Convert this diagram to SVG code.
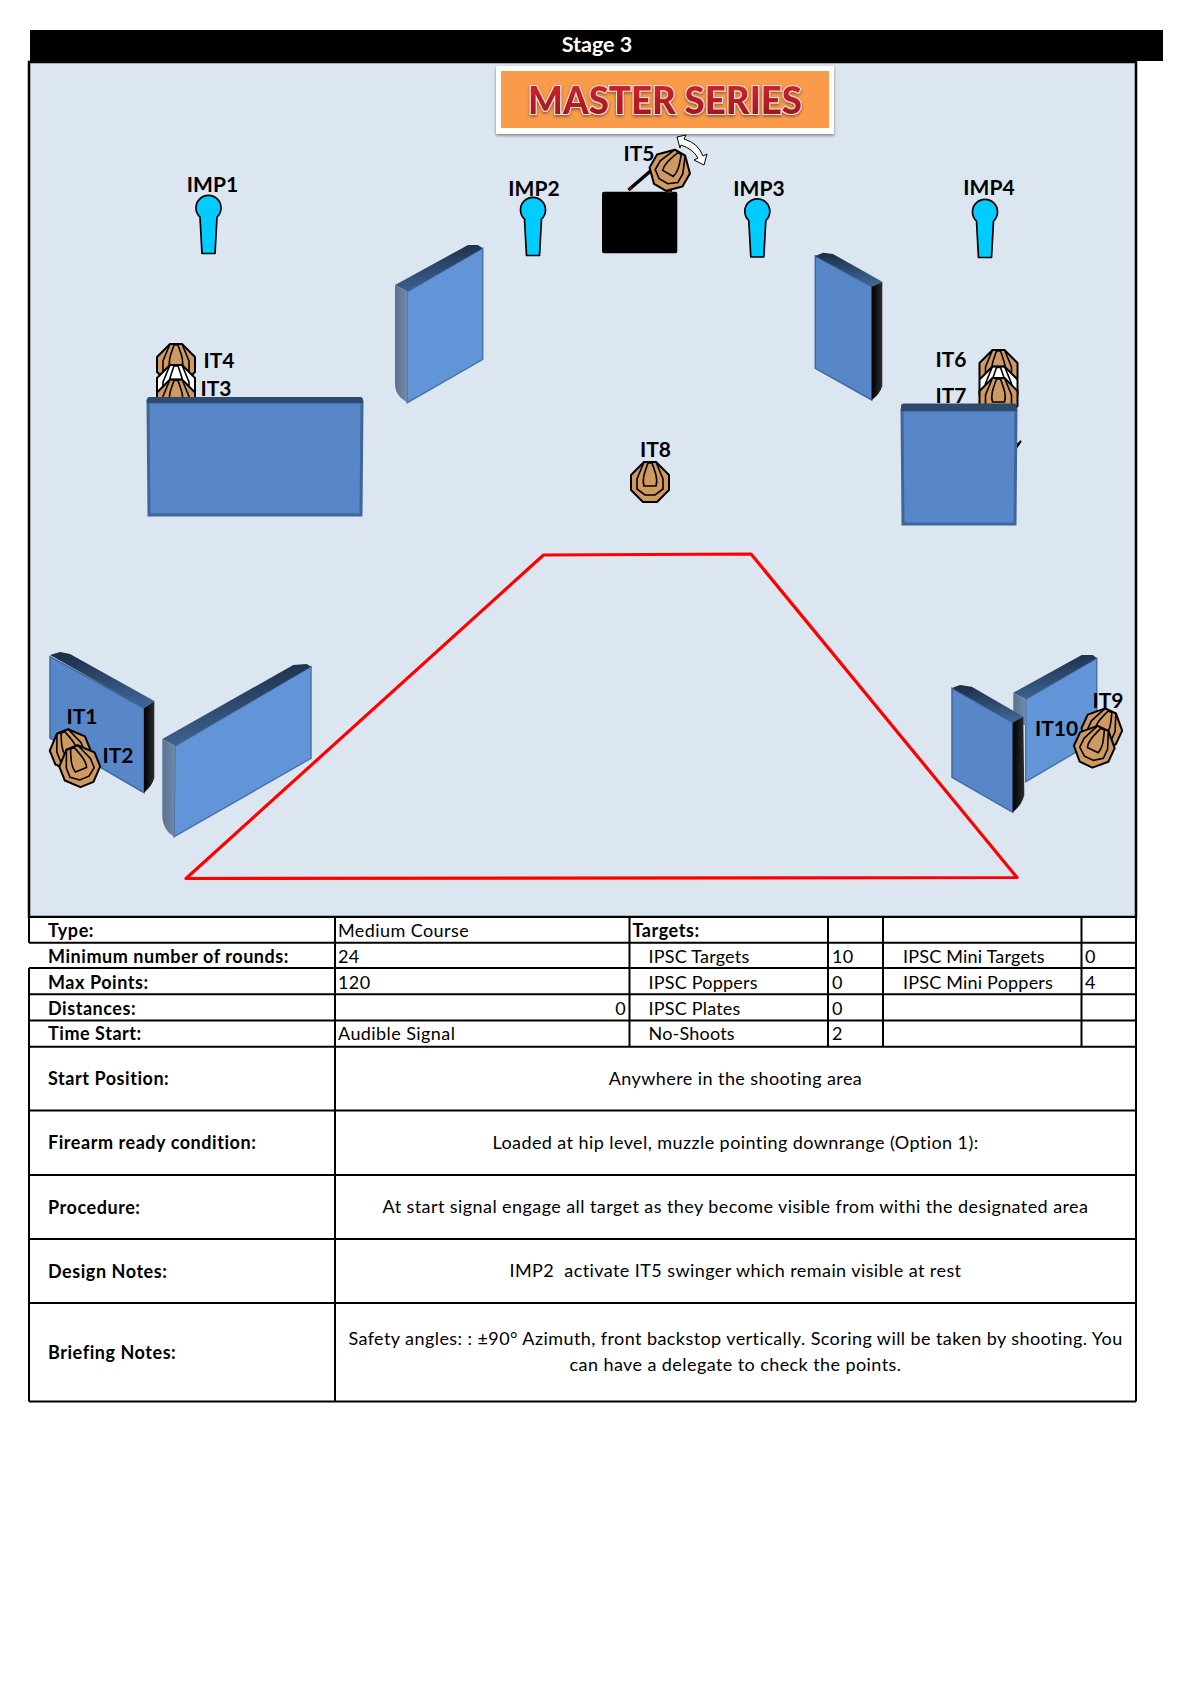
<svg xmlns="http://www.w3.org/2000/svg" width="1191" height="1684" viewBox="0 0 1191 1684">
<style>
text{font-family:Lato,"Liberation Sans",sans-serif;fill:#000}
.lb{font-size:21px;font-weight:700;text-anchor:middle}
.b{font-size:18px;font-weight:700;letter-spacing:.55px}
.t{font-size:18px;letter-spacing:.42px}
.i{font-size:18px;letter-spacing:.2px}
.c{text-anchor:middle}
.ln{stroke:#000;stroke-width:2;fill:none}
.fA{fill:#6195d8;stroke:#4a74a8;stroke-width:1.5}
.fB{fill:#5787c9;stroke:#41699c;stroke-width:1.5}
.top{fill:url(#gt)}
.sg{fill:url(#gs)}
.sk{fill:url(#gk)}
.bf{fill:#5787c9;stroke:#3f6697;stroke-width:3}
.bt{fill:#2e4a6f}
.tn{fill:#cf9a62}
.ns{fill:#fff}
</style>
<defs>
<linearGradient id="gt" x1="0" y1="0" x2="0.15" y2="1"><stop offset="0" stop-color="#1a2c44"/><stop offset="1" stop-color="#3d6391"/></linearGradient>
<linearGradient id="gs" x1="0" y1="0" x2="1" y2="0"><stop offset="0" stop-color="#5a7193"/><stop offset="1" stop-color="#728aa8"/></linearGradient>
<linearGradient id="gk" x1="0" y1="0" x2="1" y2="0"><stop offset="0" stop-color="#000"/><stop offset="1" stop-color="#2a2d30"/></linearGradient>
<linearGradient id="gr" x1="0" y1="0" x2="0" y2="1"><stop offset="0" stop-color="#d8282e"/><stop offset="1" stop-color="#98141c"/></linearGradient>
<filter id="sh" x="-5%" y="-10%" width="110%" height="125%"><feDropShadow dx="0" dy="1.5" stdDeviation="1.5" flood-color="#000" flood-opacity=".45"/></filter>
<g id="tgt">
<polygon points="-6,-20 6,-20 19,-7 19,8 7,20 -7,20 -19,8 -19,-7" stroke="#000" stroke-width="2" stroke-linejoin="round"/>
<polygon points="-6,-20 -13,-3 -13,7 -5,13 5,13 13,7 13,-3 6,-20" fill="none" stroke="#000" stroke-width="1.6"/>
<path d="M-2,-19 C-6,-8 -8,-2 -6,4 L6,4 C8,-2 6,-8 2,-19 Z" fill="none" stroke="#000" stroke-width="1.6"/>
</g>
<path id="pop" d="M-8.500,10 A12.500,12.500 0 1 1 8.500,10 L6.500,46.500 L-6.500,46.500 Z" fill="#00ccff" stroke="#000" stroke-width="1.700" stroke-linejoin="round"/>
</defs>

<rect width="1191" height="1684" fill="#fff"/>

<g id="header">
<rect x="30" y="30" width="1133" height="31" fill="#000"/>
<text x="597" y="52" text-anchor="middle" style="fill:#fff;font-size:21.500px;font-weight:700">Stage 3</text>
</g>

<rect id="panel" x="29" y="62" width="1107" height="855" fill="#dce6f1" stroke="#000" stroke-width="2.500"/>

<g id="logo">
<rect x="496" y="66" width="338" height="68" fill="#fff" filter="url(#sh)"/>
<rect x="501" y="71" width="328" height="57" fill="#f99b4b"/>
<text x="665" y="114" text-anchor="middle" textLength="274" lengthAdjust="spacingAndGlyphs" filter="url(#sh)" style="font-size:38px;font-weight:900;fill:url(#gr);stroke:#f6e4e0;stroke-width:2.200;paint-order:stroke">MASTER SERIES</text>
</g>

<g id="wall-center-left">
<polygon class="fA" points="407.300,291.700 482.700,248.300 482.700,359.300 407.300,402.700"/>
<polygon class="top" points="395,285 468,245 478,245 482.700,248.300 407.300,291.700"/>
<path class="sg" d="M395,285 L407.300,291.700 V402.700 L401,398 Q395,392 395,384 Z"/>
</g>
<g id="wall-center-right">
<polygon class="fB" points="815.300,256 871.700,286.700 871.700,400 815.300,368.300"/>
<polygon class="top" points="815.300,256 823,252.700 833,254 882.300,281.700 871.700,286.700"/>
<path class="sk" d="M871.700,286.700 L882.300,281.700 V386 Q880,394 871.700,400 Z"/>
</g>

<g id="IT4"><use href="#tgt" class="tn" transform="translate(176,364)"/><text class="lb" x="219" y="368">IT4</text></g>
<g id="NS1"><use href="#tgt" class="ns" transform="translate(176,385)"/></g>
<g id="IT3"><use href="#tgt" class="tn" transform="translate(176,399.500)"/><text class="lb" x="216" y="396">IT3</text></g>
<g id="wall-left-table">
<polygon class="bf" points="148,402 362,402 361,515 149,515"/>
<path class="bt" d="M146.700,400 Q147,397 150,397 H360 Q363,397 363,400 L363,403 H146.700 Z"/>
</g>

<g id="IT6"><use href="#tgt" class="tn" transform="translate(998.500,370)"/><text class="lb" x="951" y="367">IT6</text></g>
<g id="NS2"><use href="#tgt" class="ns" transform="translate(998.500,386.500)"/></g>
<g id="IT7"><use href="#tgt" class="tn" transform="translate(998.500,398)"/><text class="lb" x="951" y="403">IT7</text></g>
<path id="mark" d="M1015,445 L1021,440 L1021.500,442 L1016,450 Z" fill="#000"/>
<g id="wall-right-table">
<polygon class="bf" points="902,410 1016,410 1015,524 903,524"/>
<path class="bt" d="M901,406 Q901,403.500 904,403.500 H1014 Q1016.700,403.500 1016.700,406 V411 H901 Z"/>
</g>

<g id="IMP1"><use href="#pop" x="208.500" y="207"/><text class="lb" x="212.500" y="192">IMP1</text></g>
<g id="IMP2"><use href="#pop" x="533" y="209"/><text class="lb" x="534" y="195.500">IMP2</text></g>
<g id="IMP3"><use href="#pop" x="757.300" y="210.500"/><text class="lb" x="759" y="195.500">IMP3</text></g>
<g id="IMP4"><use href="#pop" x="985" y="211"/><text class="lb" x="989" y="195">IMP4</text></g>

<g id="IT5">
<rect x="602" y="191.700" width="75.300" height="61.600" rx="2" fill="#000"/>
<line x1="628.500" y1="190" x2="654" y2="168" stroke="#000" stroke-width="3.500"/>
<line x1="628.500" y1="190" x2="632" y2="187" stroke="#8a1010" stroke-width="1.500"/>
<rect x="666" y="188" width="6" height="5" fill="#222"/>
<use href="#tgt" class="tn" transform="translate(670,170) rotate(30)"/>
<path d="M677,137 L686,135 L684,139 Q698,143 703,156 L707,154 L704,165 L694,160 L698,158 Q693,149 681,145 L680,148 Z" fill="#fff" stroke="#000" stroke-width="1"/>
<text class="lb" x="639" y="161">IT5</text>
</g>

<g id="IT8"><use href="#tgt" class="tn" transform="translate(650,482)"/><text class="lb" x="655.500" y="457">IT8</text></g>

<g id="wall-bottom-left-1">
<polygon class="fB" points="50,656.700 144,708.300 144,792.700 50,738"/>
<polygon class="top" points="50,655 60,652 70,654 154.300,701 144,708.300"/>
<path class="sk" d="M144,708.300 L154.300,701 V778 Q152,786 144,792.700 Z"/>
</g>
<g id="wall-bottom-left-2">
<polygon class="fA" points="175,746 311,666.700 311,758.300 174,836.700"/>
<polygon class="top" points="162.300,739 293.300,665 306.700,664 311,666.700 175,746"/>
<path class="sg" d="M162.300,739 L175,746 L174,836.700 L168,832 Q162.300,825 162.300,815 Z"/>
</g>
<g id="wall-bottom-right-back">
<polygon class="fA" points="1025.700,699.300 1096.700,658.300 1096.700,740 1025.700,781.700"/>
<polygon class="top" points="1013.300,692.700 1081.700,655 1093,655 1096.700,658.300 1025.700,699.300"/>
<polygon class="sg" points="1013.300,692.700 1025.700,699.300 1025.700,725 1013.300,725"/>
</g>
<g id="wall-bottom-right-front">
<polygon class="fB" points="952,688.300 1012.700,722.700 1012.700,812.300 952,777.300"/>
<polygon class="top" points="952,688 960,685 971.700,686.700 1023.300,716.700 1012.700,722.700"/>
<path class="sk" d="M1012.700,722.700 L1023.300,716.700 L1024.300,795 Q1022,805 1012.700,812.300 Z"/>
</g>

<g id="IT1"><use href="#tgt" class="tn" transform="translate(70,750) rotate(-22)"/><text class="lb" x="82" y="724">IT1</text></g>
<g id="IT2"><use href="#tgt" class="tn" transform="translate(79.500,766) rotate(-22)"/><text class="lb" x="118" y="762.500">IT2</text></g>
<g id="IT9"><use href="#tgt" class="tn" transform="translate(1102,729) rotate(25)"/><text class="lb" x="1108" y="708">IT9</text></g>
<g id="IT10"><use href="#tgt" class="tn" transform="translate(1094.500,746.500) rotate(25)"/><text class="lb" x="1056.500" y="736">IT10</text></g>

<g id="connectors">
<polygon id="shooting-area" points="186,878.500 543.500,555 751,554 1017,877.500" fill="none" stroke="#f00" stroke-width="3.200" stroke-linejoin="round"/>
</g>

<g id="table">
<rect x="29" y="918" width="1107" height="484" fill="#fff"/>
<path class="ln" d="M29,917 H1136 M29,942.700 H1136 M29,968 H1136 M29,994.300 H1136 M29,1020.500 H1136 M29,1046.700 H1136 M29,1110.500 H1136 M29,1175 H1136 M29,1239 H1136 M29,1303 H1136 M29,1401.500 H1136"/>
<path class="ln" d="M29,917 V942.700 M29,968 V1401.500 M1136,917 V1401.500 M335,917 V1401.500 M629.500,917 V1046.700 M828,917 V1046.700 M883,917 V1046.700 M1081.500,917 V1046.700"/>
<text class="b" x="48" y="937">Type:</text>
<text class="b" x="48" y="963">Minimum number of rounds:</text>
<text class="b" x="48" y="989">Max Points:</text>
<text class="b" x="48" y="1015">Distances:</text>
<text class="b" x="48" y="1040">Time Start:</text>
<text class="t" x="338" y="937">Medium Course</text>
<text class="t" x="338" y="963">24</text>
<text class="t" x="338" y="989">120</text>
<text class="t" x="626" y="1015" text-anchor="end">0</text>
<text class="t" x="338" y="1040">Audible Signal</text>
<text class="b" x="632.500" y="937">Targets:</text>
<text class="i" x="648.500" y="963">IPSC Targets</text>
<text class="i" x="648.500" y="989">IPSC Poppers</text>
<text class="i" x="648.500" y="1015">IPSC Plates</text>
<text class="i" x="648.500" y="1040">No-Shoots</text>
<text class="t" x="832" y="963">10</text>
<text class="t" x="832" y="989">0</text>
<text class="t" x="832" y="1015">0</text>
<text class="t" x="832" y="1040">2</text>
<text class="i" x="903" y="963">IPSC Mini Targets</text>
<text class="i" x="903" y="989">IPSC Mini Poppers</text>
<text class="t" x="1085" y="963">0</text>
<text class="t" x="1085" y="989">4</text>
<text class="b" x="48" y="1085">Start Position:</text>
<text class="b" x="48" y="1149">Firearm ready condition:</text>
<text class="b" x="48" y="1214">Procedure:</text>
<text class="b" x="48" y="1278">Design Notes:</text>
<text class="b" x="48" y="1359">Briefing Notes:</text>
<text class="t c" x="735.500" y="1085">Anywhere in the shooting area</text>
<text class="t c" x="735.500" y="1149">Loaded at hip level, muzzle pointing downrange (Option 1):</text>
<text class="t c" x="735.500" y="1213">At start signal engage all target as they become visible from withi the designated area</text>
<text class="t c" x="735.500" y="1277" style="white-space:pre">IMP2  activate IT5 swinger which remain visible at rest</text>
<text class="t c" x="735.500" y="1345">Safety angles: : ±90° Azimuth, front backstop vertically. Scoring will be taken by shooting. You</text>
<text class="t c" x="735.500" y="1371">can have a delegate to check the points.</text>
</g>
</svg>
